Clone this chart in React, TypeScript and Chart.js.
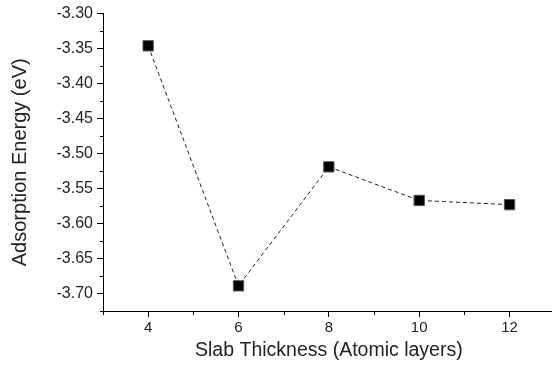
import React, { useEffect, useRef } from "react";
import { Chart, registerables } from "chart.js";

Chart.register(...registerables);

const slabLayers = [4, 6, 8, 10, 12];
const adsorptionEnergy = [-3.346, -3.689, -3.519, -3.567, -3.573];
const xMajorTicks = [4, 6, 8, 10, 12];
const xMinorTicks = [3, 5, 7, 9, 11, 13];
const yMajorTicks = [-3.7, -3.65, -3.6, -3.55, -3.5, -3.45, -3.4, -3.35, -3.3];
const yMinorTicks = [-3.725, -3.675, -3.625, -3.575, -3.525, -3.475, -3.425, -3.375, -3.325];
const xTitle = "Slab Thickness (Atomic layers)";
const yTitle = "Adsorption Energy (eV)";

const FONT = "'Liberation Sans', Arial, sans-serif";

const minorTicksPlugin = {
  id: "minorTicks",
  afterDraw(chart: any) {
    const ctx = chart.ctx;
    const xs = chart.scales.x;
    const ys = chart.scales.y;
    const area = chart.chartArea;
    ctx.save();
    ctx.strokeStyle = "#000";
    ctx.lineWidth = 1;
    ctx.beginPath();
    for (const v of yMinorTicks) {
      const py = Math.round(ys.getPixelForValue(v)) + 0.5;
      ctx.moveTo(area.left - 3, py);
      ctx.lineTo(area.left, py);
    }
    for (const v of xMinorTicks) {
      const px = Math.round(xs.getPixelForValue(v)) + 0.5;
      ctx.moveTo(px, area.bottom);
      ctx.lineTo(px, area.bottom + 4);
    }
    ctx.stroke();
    ctx.restore();
  },
};

export default function App() {
  const ref = useRef<HTMLCanvasElement>(null);
  useEffect(() => {
    if (!ref.current) return;
    const chart = new Chart(ref.current, {
      type: "line",
      data: {
        datasets: [
          {
            data: slabLayers.map((x, i) => ({ x, y: adsorptionEnergy[i] })),
            borderColor: "#222",
            borderWidth: 1,
            borderDash: [4, 3],
            pointStyle: "rect",
            pointRadius: 7.3,
            pointBackgroundColor: "#000",
            pointBorderColor: "#555",
            pointBorderWidth: 1,
            tension: 0,
            fill: false,
          },
        ],
      },
      options: {
        responsive: false,
        animation: false,
        layout: { padding: { top: 10, right: 0, left: 0, bottom: 0 } },
        plugins: { legend: { display: false }, tooltip: { enabled: false } },
        scales: {
          x: {
            type: "linear",
            min: 3,
            max: 13,
            afterBuildTicks: (s: any) => {
              s.ticks = xMajorTicks.map((value) => ({ value }));
            },
            afterFit: (s: any) => {
              s.height = 63;
              s.paddingLeft = 0;
              s.paddingRight = 0;
            },
            grid: { drawOnChartArea: false, drawTicks: true, tickLength: 6, color: "#000" },
            border: { display: true, color: "#000", width: 1 },
            ticks: {
              autoSkip: false,
              maxRotation: 0,
              padding: 2,
              color: "#222",
              font: { family: FONT, size: 15, lineHeight: 1.2 },
              callback: (v: any) => String(v),
            },
            title: {
              display: true,
              text: xTitle,
              color: "#222",
              font: { family: FONT, size: 19.5, lineHeight: 1.2 },
              padding: { top: 0, bottom: 12 },
            },
          },
          y: {
            type: "linear",
            min: -3.725,
            max: -3.3,
            afterBuildTicks: (s: any) => {
              s.ticks = yMajorTicks.map((value) => ({ value }));
            },
            afterFit: (s: any) => {
              s.width = 103;
            },
            grid: { drawOnChartArea: false, drawTicks: true, tickLength: 6, color: "#000" },
            border: { display: true, color: "#000", width: 1 },
            ticks: {
              autoSkip: false,
              padding: 4,
              color: "#222",
              font: { family: FONT, size: 16, lineHeight: 1.2 },
              callback: (v: any) => Number(v).toFixed(2),
            },
            title: {
              display: true,
              text: yTitle,
              color: "#222",
              font: { family: FONT, size: 20, lineHeight: 1.2 },
              padding: { top: 8, bottom: 0 },
            },
          },
        },
      },
      plugins: [minorTicksPlugin],
    });
    return () => chart.destroy();
  }, []);
  return (
    <div style={{ position: "fixed", left: 0, top: 0, width: 552, height: 374, overflow: "hidden", background: "#fff" }}>
      <canvas ref={ref} width={563} height={374} style={{ display: "block" }} />
    </div>
  );
}
